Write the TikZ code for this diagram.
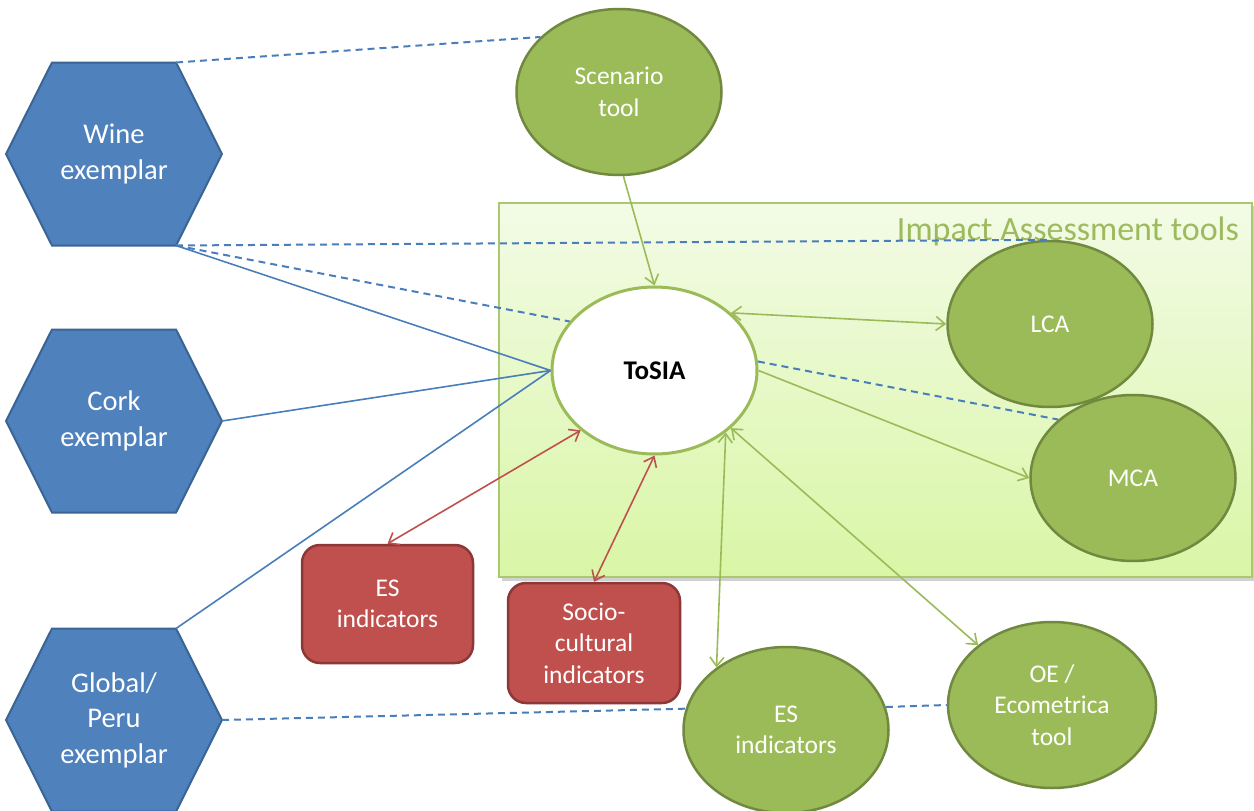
\documentclass[tikz,border=0pt]{standalone}
\usepackage{fontspec}
\setmainfont{Carlito}
\usetikzlibrary{shapes.geometric,arrows.meta,calc}
\definecolor{hexfill}{HTML}{4F81BD}
\definecolor{hexline}{HTML}{3A6493}
\definecolor{gfill}{HTML}{9BBB59}
\definecolor{gline}{HTML}{71893F}
\definecolor{rfill}{HTML}{C0504D}
\definecolor{rline}{HTML}{8C3836}
\definecolor{bconn}{HTML}{4A7EBB}
\definecolor{garrow}{HTML}{9BBB59}
\definecolor{rarrow}{HTML}{C0504D}
\definecolor{boxtop}{HTML}{F3FBE6}
\definecolor{boxbot}{HTML}{D9F6A6}
\definecolor{boxline}{HTML}{A9C870}
\definecolor{ialabel}{HTML}{9DBB5E}
\tikzset{
  hexshape/.style={fill=hexfill, draw=hexline, line width=2pt, line join=miter},
  hextext/.style={text=white, align=center, font=\fontsize{28.5}{35.5}\selectfont, inner sep=0pt},
  pics/hexa/.style={code={
    \draw[hexshape] (-108,0) -- (-62,-91.5) -- (62,-91.5) -- (108,0) -- (62,91.5) -- (-62,91.5) -- cycle;
    \coordinate (-tr) at (62,-91.5);
    \coordinate (-r) at (108,0);
    \coordinate (-br) at (62,91.5);
    \node[hextext] (-t) at (0,0) {#1};
  }},
  gell/.style={ellipse, fill=gfill, draw=gline, line width=2.5pt, text=white, align=center,
    minimum width=205pt, minimum height=166pt, inner sep=0pt, font=\fontsize{25.5}{31.5}\selectfont},
  rbox/.style={rectangle, rounded corners=18pt, fill=rfill, draw=rline, line width=2.5pt, text=white,
    align=center, inner sep=0pt, font=\fontsize{25.5}{31.5}\selectfont},
  bsolid/.style={draw=bconn, line width=1.6pt},
  bdash/.style={draw=bconn, line width=2pt, dash pattern=on 7pt off 5pt},
  garr/.style={draw=garrow, line width=1.6pt, -{Straight Barb[length=9pt,width=14pt,line width=1.6pt]}},
  gdbl/.style={draw=garrow, line width=1.6pt, {Straight Barb[length=9pt,width=14pt,line width=1.6pt]}-{Straight Barb[length=9pt,width=14pt,line width=1.6pt]}},
  rdbl/.style={draw=rarrow, line width=1.6pt, {Straight Barb[length=9pt,width=14pt,line width=1.6pt]}-{Straight Barb[length=9pt,width=14pt,line width=1.6pt]}},
}
\begin{document}
\begin{tikzpicture}[x=1pt, y=-1pt]
\useasboundingbox (0,0) rectangle (1254,811);
\fill[white] (0,0) rectangle (1254,811);

% Impact assessment box
\fill[black!18] (502,206) rectangle (1256,581);
\node[rectangle, draw=boxline, line width=2pt, top color=boxtop, bottom color=boxbot,
      minimum width=753pt, minimum height=374pt, inner sep=0pt] (iabox) at (875.5,390) {};
\node[anchor=base east, text=ialabel, font=\fontsize{34}{40}\selectfont, inner sep=0pt] (ialbl) at (1239,240) {Impact Assessment tools};

% hexagons
\pic (wine) at (114,154) {hexa={Wine\\exemplar}};
\pic (cork) at (114,421) {hexa={Cork\\exemplar}};
\pic (glob) at (114,720) {hexa={Global/\\Peru\\exemplar}};

% ellipses
\node[gell] (scen) at (619,92) {Scenario\\tool};
\node[ellipse, fill=white, draw=garrow, line width=3pt, minimum width=205pt, minimum height=167pt,
      inner sep=0pt, font=\fontsize{27}{32}\selectfont\bfseries] (tosia) at (654.5,370.5) {ToSIA};
\node[gell] (lca) at (1050,324) {LCA};
\node[gell] (mca) at (1133,478) {MCA};
\node[gell] (esg) at (786,730) {ES\\indicators};
\node[gell, minimum width=208pt] (oe) at (1052,705) {OE /\\Ecometrica\\tool};

% red boxes
\node[rbox, minimum width=171pt, minimum height=118pt] (esr) at (387.5,604) {ES\\indicators};
\node[rbox, minimum width=172pt, minimum height=120pt] (soc) at (594,643) {Socio-\\cultural\\indicators};

% blue connectors
\draw[bdash] (wine-tr) -- (scen.145);
\draw[bdash] (wine-br) -- (lca.north);
\draw[bdash] (wine-br) -- (tosia.150);
\draw[bsolid] (wine-br) -- (tosia.west);
\draw[bsolid] (cork-r) -- (tosia.west);
\draw[bsolid] (glob-tr) -- (tosia.west);
\draw[bdash] (glob-r) -- (esg.168);
\draw[bdash] (esg.13) -- (oe.west);
\draw[bdash] (tosia.5) -- (mca.142);

% green arrows
\draw[garr] (scen.273) -- (tosia.north);
\draw[gdbl] (tosia.37) -- (lca.west);
\draw[garr] (tosia.east) -- (mca.west);
\draw[gdbl] (tosia.-41) -- (esg.138);
\draw[gdbl] (tosia.-37) -- (oe.141);

% red arrows
\draw[rdbl] (tosia.219) -- (esr.north);
\draw[rdbl] (tosia.south) -- (soc.north);
\end{tikzpicture}
\end{document}
